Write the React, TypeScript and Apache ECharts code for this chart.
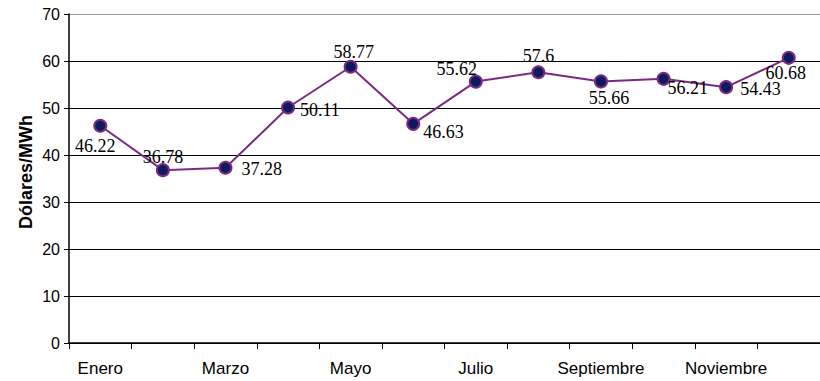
import React, { useEffect, useRef } from "react";
import * as echarts from "echarts";

const months = ["Enero", "Febrero", "Marzo", "Abril", "Mayo", "Junio", "Julio", "Agosto", "Septiembre", "Octubre", "Noviembre", "Diciembre"];
const prices = [46.22, 36.78, 37.28, 50.11, 58.77, 46.63, 55.62, 57.6, 55.66, 56.21, 54.43, 60.68];
const labelPositions = ["bottom", "top", "right", "right", "top", "right", "top", "top", "bottom", "right", "right", "bottom"];
const labelOffsets = [[-5, -1], [0, 8], [4, 1], [0, 3], [3, 6], [-2, 8], [-19, 8], [0, 5], [8, -4], [-8, 9], [2, 2], [-3, -6]];
const yTicks = [0, 10, 20, 30, 40, 50, 60, 70];
const yTitle = "Dólares/MWh";

export default function App() {
  const ref = useRef<HTMLDivElement>(null);
  useEffect(() => {
    const chart = echarts.init(ref.current!, null, { renderer: "svg" });
    chart.setOption({
      animation: false,
      grid: { left: 69, right: 0, top: 14, bottom: 38, containLabel: false },
      graphic: [
        {
          type: "text",
          x: 26,
          y: 172,
          rotation: Math.PI / 2,
          style: {
            text: yTitle,
            fill: "#000",
            font: "bold 18px 'Liberation Sans', Arial, sans-serif",
            textAlign: "center",
            textVerticalAlign: "middle",
          },
        },
      ],
      xAxis: {
        type: "category",
        data: months,
        boundaryGap: true,
        axisLine: { lineStyle: { color: "#000", width: 1.5 } },
        axisTick: { show: true, length: 6, interval: 0, lineStyle: { color: "#000", width: 1 } },
        axisLabel: { interval: 1, color: "#000", fontFamily: "Liberation Sans, Arial", fontSize: 17, margin: 17 },
      },
      yAxis: {
        type: "value",
        min: yTicks[0],
        max: yTicks[yTicks.length - 1],
        interval: 10,
        axisLine: { show: true, lineStyle: { color: "#000", width: 1.5 } },
        axisTick: { show: true, length: 5, lineStyle: { color: "#000" } },
        axisLabel: { color: "#000", fontFamily: "Liberation Sans, Arial", fontSize: 16, margin: 9 },
        splitLine: { show: true, lineStyle: { color: ["#000", "#000", "#000", "#000", "#000", "#000", "#000", "#9a9a9a"], width: 1.2 } },
      },
      series: [
        {
          type: "line",
          data: prices.map((v, i) => ({
            value: v,
            label: { position: labelPositions[i], offset: labelOffsets[i] },
          })),
          symbol: "circle",
          symbolSize: 12,
          lineStyle: { color: "#7a2a82", width: 2 },
          itemStyle: { color: "#0c1a5e", borderColor: "#7a2a82", borderWidth: 2 },
          label: {
            show: true,
            color: "#000",
            fontFamily: "Liberation Serif, Times New Roman, serif",
            fontSize: 18,
            distance: 5,
          },
        },
      ],
    });
    return () => chart.dispose();
  }, []);
  return <div ref={ref} style={{ width: 820, height: 381, position: "absolute", left: 0, top: 0, background: "#fff" }} />;
}
